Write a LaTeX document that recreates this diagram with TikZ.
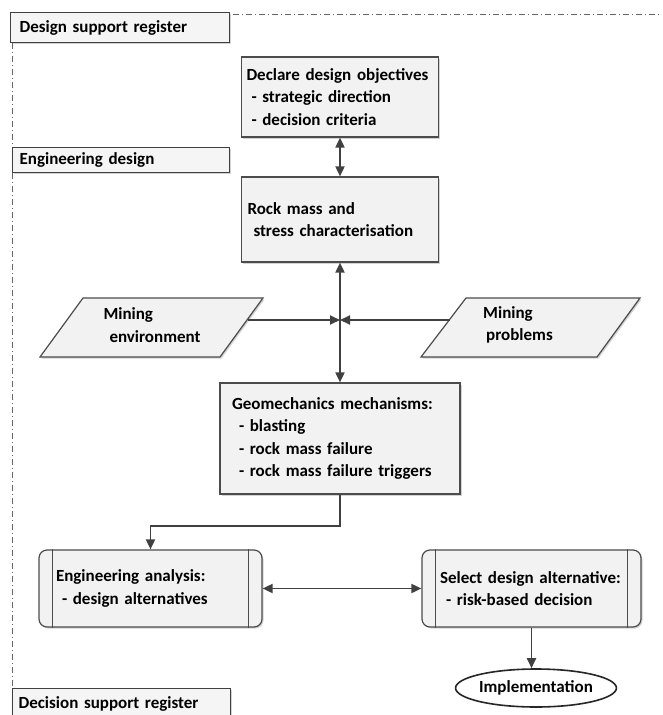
\documentclass[tikz,border=0pt]{standalone}
\usepackage{fontspec}
\setmainfont{Carlito}
\usetikzlibrary{arrows.meta,shapes.geometric,shadows}
\begin{document}
\begin{tikzpicture}[x=1pt,y=-1pt,
  font=\fontsize{17}{22.5}\selectfont\bfseries,
  box/.style={draw=black!70, line width=1.2pt, fill=black!5, rectangle, align=left, inner ysep=0pt,
    drop shadow={shadow xshift=1.5pt, shadow yshift=-1.5pt, opacity=0.35}},
  reg/.style={draw=black!75, line width=1.2pt, fill=black!4, rectangle, align=left, anchor=north west,
    inner ysep=0pt, drop shadow={shadow xshift=1.5pt, shadow yshift=-1.5pt, opacity=0.35}},
  para/.style={draw=black!70, line width=1.2pt, fill=black!5},
  conn/.style={draw=black!75, line width=1.8pt, arrows={-Triangle[length=10pt,width=9pt]}},
  bconn/.style={draw=black!75, line width=1.8pt, arrows={Triangle[length=10pt,width=9pt]-Triangle[length=10pt,width=9pt]}},
  lane/.style={draw=black!60, line width=0.9pt, dash pattern=on 6pt off 3pt on 1pt off 3pt}]
\useasboundingbox (0,0) rectangle (662,715);

% registers
\node[reg, minimum height=30pt, inner xsep=9pt, text width=201pt] (dsr) at (10,12) {Design support register};
\node[reg, minimum height=25pt, inner xsep=7pt, text width=203pt] (edr) at (12,147) {Engineering design};
\node[reg, minimum height=30pt, inner xsep=6pt, text width=206pt] (dcr) at (12,688) {Decision support register};

\coordinate (topR) at (662,14);
\draw[lane] ([xshift=3pt,yshift=-2pt]dsr.north east) -- (topR);
\draw[lane] ([xshift=2pt]dsr.south west) -- ([xshift=0pt]edr.north west);
\draw[lane] ([xshift=0pt]edr.south west) -- ([xshift=0pt]dcr.north west);

% main boxes
\node[box, minimum height=80pt, inner xsep=5pt, text width=187pt] (dec) at (340,97)
  {Declare design objectives\\\hspace*{5pt}- strategic direction\\\hspace*{5pt}- decision criteria};
\node[box, minimum height=85pt, inner xsep=6pt, text width=185pt] (rock) at (340,219.5)
  {Rock mass and\\\hspace*{6pt}stress characterisation};
\node[box, minimum height=111pt, inner xsep=12pt, text width=216pt] (geo) at (340,438.5)
  {Geomechanics mechanisms:\\\hspace*{7pt}- blasting\\\hspace*{7pt}- rock mass failure\\\hspace*{7pt}- rock mass failure triggers};

% parallelograms
\draw[para, drop shadow={shadow xshift=1.5pt, shadow yshift=-1.5pt, opacity=0.35}]
  (83,298) -- (263,298) -- (220,357) -- (40,357) -- cycle;
\node[align=left] (me) at (152,325) {Mining\\\hspace*{6pt}environment};
\draw[para, drop shadow={shadow xshift=1.5pt, shadow yshift=-1.5pt, opacity=0.35}]
  (466,298) -- (640,298) -- (597,357) -- (421,357) -- cycle;
\node[align=left] (mp) at (518,325) {Mining\\\hspace*{3pt}problems};

\coordinate (meR) at (248,320);
\coordinate (mpL) at (450,320);
\coordinate (j) at (340,320);

% predefined process boxes
\node[box, rounded corners=8pt, minimum height=77pt, inner xsep=17pt, text width=189pt] (ea) at (150.5,588.5)
  {Engineering analysis:\\\hspace*{6pt}- design alternatives};
\draw[draw=black!70, line width=1.2pt] ([xshift=14pt]ea.north west) -- ([xshift=14pt]ea.south west);
\draw[draw=black!70, line width=1.2pt] ([xshift=-14pt]ea.north east) -- ([xshift=-14pt]ea.south east);
\node[box, rounded corners=8pt, minimum height=77pt, inner xsep=18pt, text width=183pt] (sel) at (531.5,588.5)
  {Select design alternative:\\\hspace*{6pt}- risk-based decision};
\draw[draw=black!70, line width=1.2pt] ([xshift=14pt]sel.north west) -- ([xshift=14pt]sel.south west);
\draw[draw=black!70, line width=1.2pt] ([xshift=-14pt]sel.north east) -- ([xshift=-14pt]sel.south east);

\node[ellipse, draw=black!85, line width=1.6pt, fill=white, minimum width=152pt, minimum height=38pt, inner sep=0pt] (impl) at (536,688) {Implementation};

% connectors
\draw[bconn] (dec.south) -- (rock.north);
\draw[bconn] (rock.south) -- (geo.north);
\draw[conn] (meR) -- (j);
\draw[conn] (mpL) -- (j);
\draw[conn] (geo.south) -- ++(0,31) -| (ea.north);
\draw[bconn] (ea.east) -- (sel.west);
\draw[conn] (sel.south) -- (sel.south |- impl.north);
\end{tikzpicture}
\end{document}
